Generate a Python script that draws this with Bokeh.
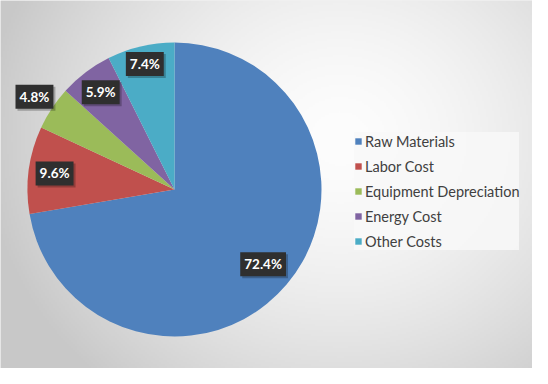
import numpy as np
from bokeh.plotting import figure
from bokeh.models import ColumnDataSource, Range1d, Legend, LegendItem
from bokeh.core.properties import value
from bokeh.embed import file_html
from bokeh.resources import INLINE

# ---- data ----
categories = ["Raw Materials", "Labor Cost", "Equipment Depreciation", "Energy Cost", "Other Costs"]
shares = [72.4, 9.6, 4.8, 5.9, 7.4]
labels = ["72.4%", "9.6%", "4.8%", "5.9%", "7.4%"]
colors = ["#4f81bd", "#c0504d", "#9bbb59", "#8064a2", "#4bacc6"]

# ---- layout ----
W, H = 532, 368
cx, cy, R = 174, H - 189, 147
label_r = [116, 121, 168, 122, 129]

vals = np.array(shares, dtype=float)
frac = vals / vals.sum()
cum_end = np.cumsum(frac)
cum_start = cum_end - frac
start_angle = np.pi / 2 - cum_end * 2 * np.pi
end_angle = np.pi / 2 - cum_start * 2 * np.pi
mid = (start_angle + end_angle) / 2

src = ColumnDataSource(dict(
    cat=categories, color=colors,
    start=start_angle, end=end_angle,
    lx=cx + np.array(label_r) * np.cos(mid),
    ly=cy + np.array(label_r) * np.sin(mid),
    lab=labels,
))

p = figure(width=W, height=H, x_range=Range1d(0, W), y_range=Range1d(0, H),
           output_backend="svg", toolbar_location=None, min_border=0)
p.axis.visible = False
p.grid.visible = False
p.outline_line_color = None
p.background_fill_color = "#e4e4e4"
p.border_fill_color = "#e4e4e4"

# background radial gradient
nx, ny = 266, 184
gx, gy = np.meshgrid(np.linspace(0, W, nx), np.linspace(0, H, ny))
d = np.sqrt(((gx - 340) / 330) ** 2 + ((gy - 230) / 300) ** 2)
lev = np.clip(253 - 46 * d ** 1.6, 200, 253).astype(np.uint32)
img = (255 << 24) | (lev << 16) | (lev << 8) | lev
p.image_rgba(image=[img.astype(np.uint32)], x=0, y=0, dw=W, dh=H)

w = p.wedge(x=cx, y=cy, radius=R, start_angle="start", end_angle="end",
            fill_color="color", line_color=None, source=src)

# label shadows + labels
p.text(x="lx", y="ly", text="lab", source=src, x_offset=2, y_offset=2,
       text_align="center", text_baseline="middle", text_font=value("Lato"),
       text_font_size="13.5px", text_font_style="bold", text_alpha=0,
       background_fill_color="#000000", background_fill_alpha=0.25, padding=4)
p.text(x="lx", y="ly", text="lab", source=src,
       text_align="center", text_baseline="middle", text_font=value("Lato"),
       text_font_size="13.5px", text_font_style="bold", text_color="white",
       background_fill_color="#2f2f2f", padding=4)

items = [LegendItem(label=c, renderers=[w], index=i) for i, c in enumerate(categories)]
legend = Legend(items=items, location=(354, H - 250), orientation="vertical",
                background_fill_color="#f8f8f8", background_fill_alpha=0.85,
                border_line_color=None, glyph_width=8, glyph_height=8,
                label_text_font="Lato", label_text_font_size="14.5px",
                label_text_color="#404040", spacing=7, label_height=18,
                padding=6, margin=0, label_standoff=3)
p.add_layout(legend, "center")

open("out.html", "w").write(file_html(p, INLINE))
